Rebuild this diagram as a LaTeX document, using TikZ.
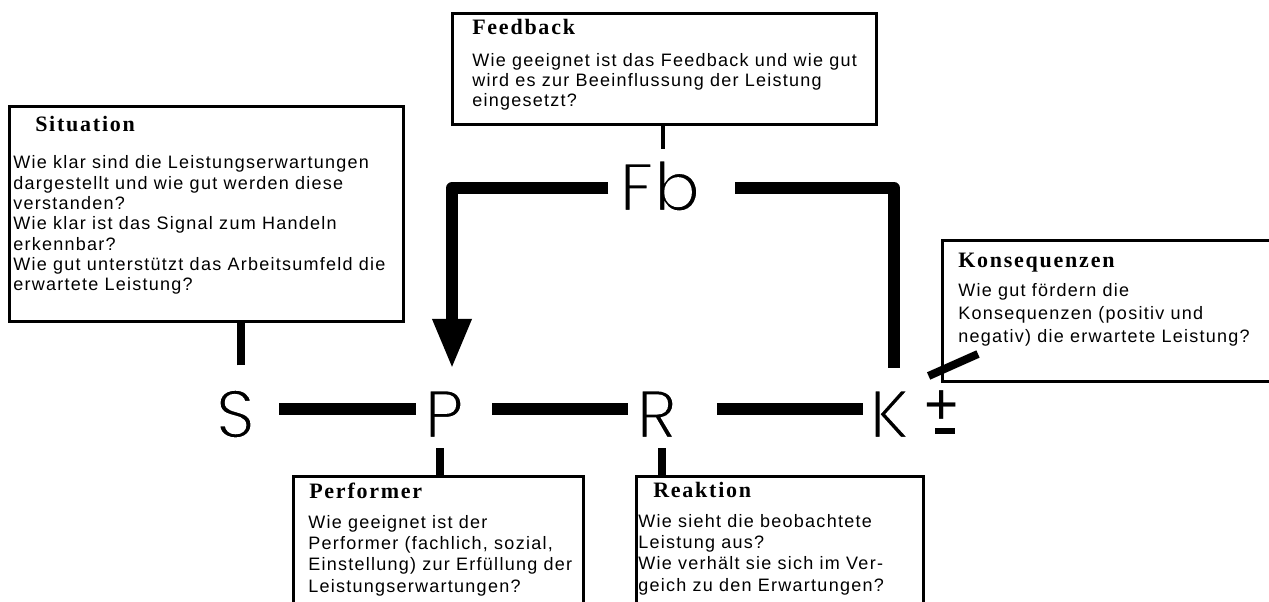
\documentclass[tikz,border=0pt]{standalone}
\usepackage{fontspec}
\setmainfont{Liberation Sans}
\newfontfamily\ttlfont[LetterSpace=8]{Liberation Serif}
\newfontfamily\txtfont[LetterSpace=7]{Liberation Sans}
\newfontfamily\bigfont{Poppins}
\newcommand\thinglyphs[1]{\special{pdf:literal direct 1 1 1 RG 1.6 w 2 Tr}#1\special{pdf:literal direct 0 Tr 0 0 0 RG}}
\usetikzlibrary{arrows.meta}
\tikzset{
  boxstyle/.style={draw, line width=2.6pt, inner sep=0pt, anchor=north west},
  ttl/.style={inner sep=0pt, anchor=base west, font=\ttlfont\bfseries\fontsize{16.5pt}{19pt}\selectfont},
  txt/.style={inner sep=0pt, anchor=base west, font=\txtfont\fontsize{13.5pt}{15.2pt}\selectfont},
  big/.style={inner sep=0pt, anchor=base west, font=\bigfont\fontsize{51.4pt}{60pt}\selectfont},
  conn/.style={line width=9pt, line join=round},
  stubline/.style={line width=6pt},
  thinstub/.style={line width=3pt},
  diagline/.style={line width=6pt},
}
\begin{document}
\begin{tikzpicture}[x=0.75pt,y=-0.75pt]
\useasboundingbox (0,0) rectangle (1269,602);
\clip (0,0) rectangle (1269,602);

% boxes
\node[boxstyle, minimum width=318pt, minimum height=83.25pt] (fbbox) at (451,12) {};
\node[boxstyle, minimum width=295.5pt, minimum height=161.25pt] (sitbox) at (8,105) {};
\node[boxstyle, minimum width=260pt, minimum height=105.75pt] (konsbox) at (941,239) {};
\node[boxstyle, minimum width=217.5pt, minimum height=120pt] (perfbox) at (292,475) {};
\node[boxstyle, minimum width=215.25pt, minimum height=120pt] (reakbox) at (635,475) {};

% box texts
\node[ttl] (fbttl) at (472,35) {Feedback};
\node[txt] (fbtxt) at (472,67) {\parbox[t]{400pt}{\baselineskip=15pt
Wie geeignet ist das Feedback und wie gut\\
wird es zur Beeinflussung der Leistung\\
eingesetzt?}};

\node[ttl] (sitttl) at (35,132) {Situation};
\node[txt] (sittxt) at (13,169) {\parbox[t]{400pt}{\baselineskip=15.2pt
Wie klar sind die Leistungserwartungen\\
dargestellt und wie gut werden diese\\
verstanden?\\
Wie klar ist das Signal zum Handeln\\
erkennbar?\\
Wie gut unterstützt das Arbeitsumfeld die\\
erwartete Leistung?}};

\node[ttl] (konsttl) at (958,267) {Konsequenzen};
\node[txt] (konstxt) at (958,296) {\parbox[t]{400pt}{\baselineskip=17.25pt
Wie gut fördern die\\
Konsequenzen (positiv und\\
negativ) die erwartete Leistung?}};

\node[ttl] (perfttl) at (309,498) {Performer};
\node[txt] (perftxt) at (308,528) {\parbox[t]{400pt}{\baselineskip=16pt
Wie geeignet ist der\\
Performer (fachlich, sozial,\\
Einstellung) zur Erfüllung der\\
Leistungserwartungen?}};

\node[ttl] (reakttl) at (653,497) {Reaktion};
\node[txt] (reaktxt) at (638,527) {\parbox[t]{400pt}{\baselineskip=16pt
Wie sieht die beobachtete\\
Leistung aus?\\
Wie verhält sie sich im Ver-\\
geich zu den Erwartungen?}};

% big letters
\node[big] (S) at (215,438) {\thinglyphs{S}};
\node[big] (P) at (424,438) {\thinglyphs{P}};
\node[big] (R) at (636,438) {\thinglyphs{R}};
\node[big] (K) at (869,438) {\thinglyphs{K}};
\node[big] (Fb) at (619,211) {\thinglyphs{Fb}};
\node[inner sep=0pt, font=\fontsize{44pt}{48pt}\selectfont] (pm) at (941.5,408) {+};
\fill (935,428) rectangle (955,434);

% main row connectors (all at the same height above the baseline)
\draw[conn] ([xshift=17.6pt,yshift=21.75pt]S.base east) -- ([xshift=-6pt,yshift=21.75pt]P.base west);
\draw[conn] ([xshift=21pt,yshift=21.75pt]P.base east) -- ([xshift=-6pt,yshift=21.75pt]R.base west);
\draw[conn] ([xshift=29pt,yshift=21.75pt]R.base east) -- ([xshift=-4.5pt,yshift=21.75pt]K.base west);

% feedback loop
\coordinate (c1) at (452,188);
\coordinate (c2) at (894,188);
\draw[conn, shorten <=8pt, shorten >=15.75pt, -{Triangle[width=27pt,length=37.5pt]}]
  (c1 -| Fb.west) -- (c1) -- (c1 |- P.north);
\draw[conn, shorten <=26pt, shorten >=16.5pt] (c2 -| Fb.east) -- (c2) -- (c2 |- K.north);

% stubs
\draw[thinstub, shorten >=8pt] ([xshift=-1.5pt]fbbox.south) -- ([xshift=-1.5pt]fbbox.south |- Fb.north);
\draw[stubline, shorten <=18pt] ([xshift=4.5pt]S.north) -- ([xshift=4.5pt]S.north |- sitbox.south);
\draw[stubline, shorten <=7.5pt] ([xshift=-3pt]P.south) -- ([xshift=-3pt]P.south |- perfbox.north);
\draw[stubline, shorten <=7.5pt] ([xshift=3.75pt]R.south) -- ([xshift=3.75pt]R.south |- reakbox.north);
\coordinate (kend) at (978,354);
\draw[diagline] ([xshift=13.5pt,yshift=10.5pt]K.north east) -- (kend);
\end{tikzpicture}
\end{document}
